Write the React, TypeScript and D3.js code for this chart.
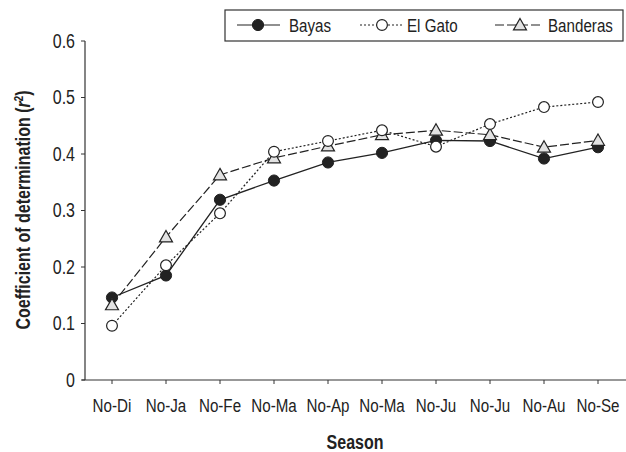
import React from "react";
import * as d3 from "d3";

const categories = ["No-Di", "No-Ja", "No-Fe", "No-Ma", "No-Ap", "No-Ma", "No-Ju", "No-Ju", "No-Au", "No-Se"];
const bayas = [0.146, 0.185, 0.319, 0.353, 0.385, 0.402, 0.424, 0.423, 0.392, 0.412];
const elGato = [0.096, 0.203, 0.295, 0.404, 0.423, 0.442, 0.413, 0.453, 0.483, 0.492];
const banderas = [0.133, 0.253, 0.363, 0.393, 0.414, 0.434, 0.442, 0.434, 0.412, 0.424];
const yTicks = [0, 0.1, 0.2, 0.3, 0.4, 0.5, 0.6];
const seriesNames = ["Bayas", "El Gato", "Banderas"];

const W = 626;
const H = 452;
const FONT = "'Liberation Sans', Arial, sans-serif";
const INK = "#222";
const SX = 0.82;

function T({
  x,
  y,
  rot = 0,
  anchor = "start",
  size = 18.5,
  bold = false,
  dy,
  children,
}: {
  x: number;
  y: number;
  rot?: number;
  anchor?: string;
  size?: number;
  bold?: boolean;
  dy?: string;
  children: React.ReactNode;
}) {
  return (
    <text
      transform={`translate(${x},${y}) rotate(${rot}) scale(${SX},1)`}
      textAnchor={anchor}
      fontSize={size}
      fontWeight={bold ? "bold" : "normal"}
      fill={INK}
      dy={dy}
    >
      {children}
    </text>
  );
}

function Marker({ kind, x, y }: { kind: number; x: number; y: number }) {
  if (kind === 0) return <circle cx={x} cy={y} r={5.6} fill={INK} stroke={INK} strokeWidth={1} />;
  if (kind === 1) return <circle cx={x} cy={y} r={5.4} fill="#fff" stroke={INK} strokeWidth={1.2} />;
  const s = 6.5;
  const pts = `${x},${y - s} ${x + s},${y + s * 0.75} ${x - s},${y + s * 0.75}`;
  return <polygon points={pts} fill="#e2e2e2" stroke={INK} strokeWidth={1.2} />;
}

export default function App() {
  const x = d3.scaleBand<number>().domain(d3.range(categories.length)).range([85, 625]);
  const y = d3.scaleLinear().domain([0, 0.6]).range([380, 41]);
  const cx = (i: number) => (x(i) as number) + x.bandwidth() / 2;

  const line = d3
    .line<number>()
    .x((_, i) => cx(i))
    .y((d) => y(d));

  const series = [bayas, elGato, banderas];
  const dashes = ["none", "2,2", "9,3"];

  const legendItems = [
    { l0: 237, l1: 280, m: 258, t: 289 },
    { l0: 360, l1: 402, m: 382, t: 407 },
    { l0: 495, l1: 543, m: 520, t: 548 },
  ];

  return (
    <div style={{ position: "fixed", left: 0, top: 0 }}>
      <svg width={W} height={H} style={{ display: "block", background: "#fff" }} fontFamily={FONT}>
        {/* axes */}
        <line x1={85} x2={85} y1={41} y2={380} stroke="#333" strokeWidth={1.2} />
        <line x1={82} x2={626} y1={380} y2={380} stroke="#333" strokeWidth={1.2} />
        {yTicks.map((t) => (
          <g key={t}>
            <line x1={81} x2={85} y1={y(t)} y2={y(t)} stroke="#333" strokeWidth={1} />
            <T x={75} y={y(t)} dy="0.35em" anchor="end" size={19.5}>
              {t === 0 ? "0" : d3.format(".1f")(t)}
            </T>
          </g>
        ))}
        {categories.map((c, i) => (
          <g key={i}>
            <line x1={cx(i)} x2={cx(i)} y1={380} y2={384} stroke="#333" strokeWidth={1} />
            <T x={cx(i)} y={412} anchor="middle">
              {c}
            </T>
          </g>
        ))}
        <T x={355} y={449} anchor="middle" size={19.5} bold>
          Season
        </T>
        <T x={30} y={210} rot={-90} anchor="middle" size={19.5} bold>
          Coefficient of determination (<tspan fontStyle="italic">r</tspan>
          <tspan fontSize={12} dy={-7}>2</tspan>
          <tspan dy={7}>)</tspan>
        </T>

        {/* lines */}
        {series.map((s, k) => (
          <path
            key={k}
            d={line(s) || ""}
            fill="none"
            stroke={INK}
            strokeWidth={k === 0 ? 1.3 : 1.2}
            strokeDasharray={dashes[k]}
          />
        ))}
        {[0, 2, 1].map((k) =>
          series[k].map((v, i) => <Marker key={`${k}-${i}`} kind={k} x={cx(i)} y={y(v)} />)
        )}

        {/* legend */}
        <rect x={225} y={10} width={398} height={31} fill="#fff" stroke="#333" strokeWidth={1.2} />
        {legendItems.map((it, k) => (
          <g key={k}>
            <line
              x1={it.l0}
              x2={it.l1}
              y1={25}
              y2={25}
              stroke={INK}
              strokeWidth={1.2}
              strokeDasharray={dashes[k]}
            />
            <Marker kind={k} x={it.m} y={25} />
            <T x={it.t} y={32}>
              {seriesNames[k]}
            </T>
          </g>
        ))}
      </svg>
    </div>
  );
}
